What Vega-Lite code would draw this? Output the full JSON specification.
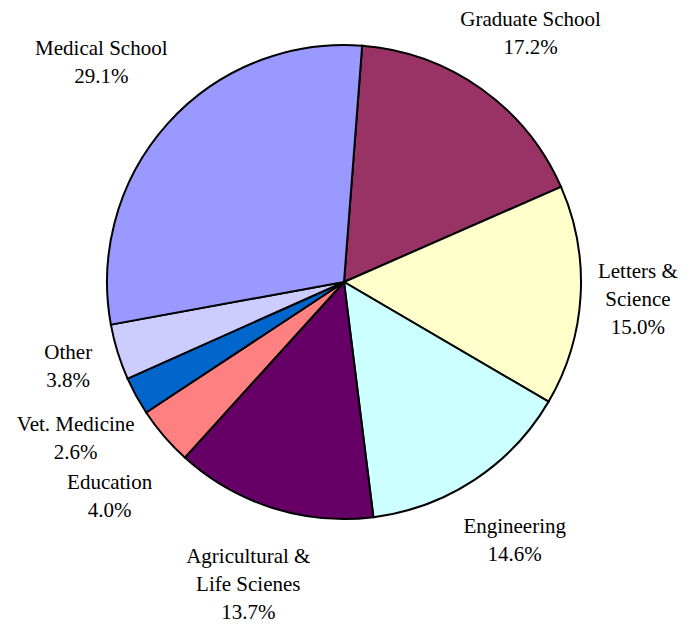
{
  "$schema": "https://vega.github.io/schema/vega-lite/v6.json",
  "width": 688,
  "height": 564,
  "autosize": {"type": "none"},
  "padding": {"left": 0, "top": 0, "right": 6, "bottom": 64},
  "background": "white",
  "config": {"view": {"stroke": null}},
  "data": {
    "values": [
      {"rank": 1, "school": "Graduate School", "pct": 17.2, "label": "Graduate School\n17.2%"},
      {"rank": 2, "school": "Letters & Science", "pct": 15.0, "label": "Letters &\nScience\n15.0%"},
      {"rank": 3, "school": "Engineering", "pct": 14.6, "label": "Engineering\n14.6%"},
      {"rank": 4, "school": "Agricultural & Life Scienes", "pct": 13.7, "label": "Agricultural &\nLife Scienes\n13.7%"},
      {"rank": 5, "school": "Education", "pct": 4.0, "label": "Education\n4.0%"},
      {"rank": 6, "school": "Vet. Medicine", "pct": 2.6, "label": "Vet. Medicine\n2.6%"},
      {"rank": 7, "school": "Other", "pct": 3.8, "label": "Other\n3.8%"},
      {"rank": 8, "school": "Medical School", "pct": 29.1, "label": "Medical School\n29.1%"}
    ]
  },
  "resolve": {"scale": {"theta": "independent"}},
  "layer": [
    {
      "mark": {"type": "arc", "outerRadius": 237, "stroke": "black", "strokeWidth": 2},
      "encoding": {
        "theta": {"field": "pct", "type": "quantitative", "stack": true, "scale": {"range": [0.0767, 6.3599]}},
        "order": {"field": "rank", "type": "quantitative"},
        "color": {
          "field": "school",
          "type": "nominal",
          "legend": null,
          "scale": {
            "domain": ["Graduate School", "Letters & Science", "Engineering", "Agricultural & Life Scienes", "Education", "Vet. Medicine", "Other", "Medical School"],
            "range": ["#993366", "#FFFFCC", "#CCFFFF", "#660066", "#FF8080", "#0066CC", "#CCCCFF", "#9999FF"]
          }
        }
      }
    },
    {
      "transform": [
        {"stack": "pct", "groupby": [], "sort": [{"field": "rank", "order": "ascending"}], "as": ["s0", "s1"]},
        {"calculate": "0.0767 + PI * (datum.s0 + datum.s1) / 100", "as": "ang"},
        {"calculate": "split(datum.label, '\\n')", "as": "lines"},
        {"calculate": "length(datum.lines)", "as": "n"},
        {"calculate": "4.9 * max(length(datum.lines[0]), datum.n > 1 ? length(datum.lines[1]) : 0, datum.n > 2 ? length(datum.lines[2]) : 0)", "as": "w"},
        {"calculate": "14 * datum.n", "as": "h"},
        {"calculate": "257 + datum.w * abs(sin(datum.ang)) + datum.h * abs(cos(datum.ang))", "as": "r"},
        {"calculate": "clamp(datum.r * sin(datum.ang), -344 + datum.w + 12, 350 - datum.w - 12)", "as": "cx"},
        {"calculate": "max(-datum.r * cos(datum.ang), -272 + 14 * (datum.n - 1) + 10)", "as": "cy0"},
        {"window": [
          {"op": "lead", "field": "cy0", "as": "ncy"},
          {"op": "lead", "field": "cx", "as": "ncx"},
          {"op": "lead", "field": "n", "as": "nn"}
        ], "sort": [{"field": "rank", "order": "ascending"}]},
        {"calculate": "(datum.cx < 0 && isValid(datum.ncx) && datum.ncx < 0) ? max(datum.cy0, datum.ncy + 14 * (datum.n - 1) + 14 * (datum.nn - 1) + 30) : datum.cy0", "as": "cy"},
        {"calculate": "atan2(datum.cx, -datum.cy)", "as": "ang2"},
        {"calculate": "sqrt(datum.cx * datum.cx + datum.cy * datum.cy)", "as": "r2"},
        {"calculate": "-14 * (datum.n - 1)", "as": "dyy"}
      ],
      "mark": {"type": "text", "radius": {"expr": "datum.r2"}, "dy": {"expr": "datum.dyy"}, "font": "Liberation Serif", "fontSize": 21, "lineBreak": "\n", "lineHeight": 28, "align": "center", "baseline": "middle", "color": "black"},
      "encoding": {
        "theta": {"field": "ang2", "type": "quantitative", "scale": null},
        "text": {"field": "label"}
      }
    }
  ]
}
